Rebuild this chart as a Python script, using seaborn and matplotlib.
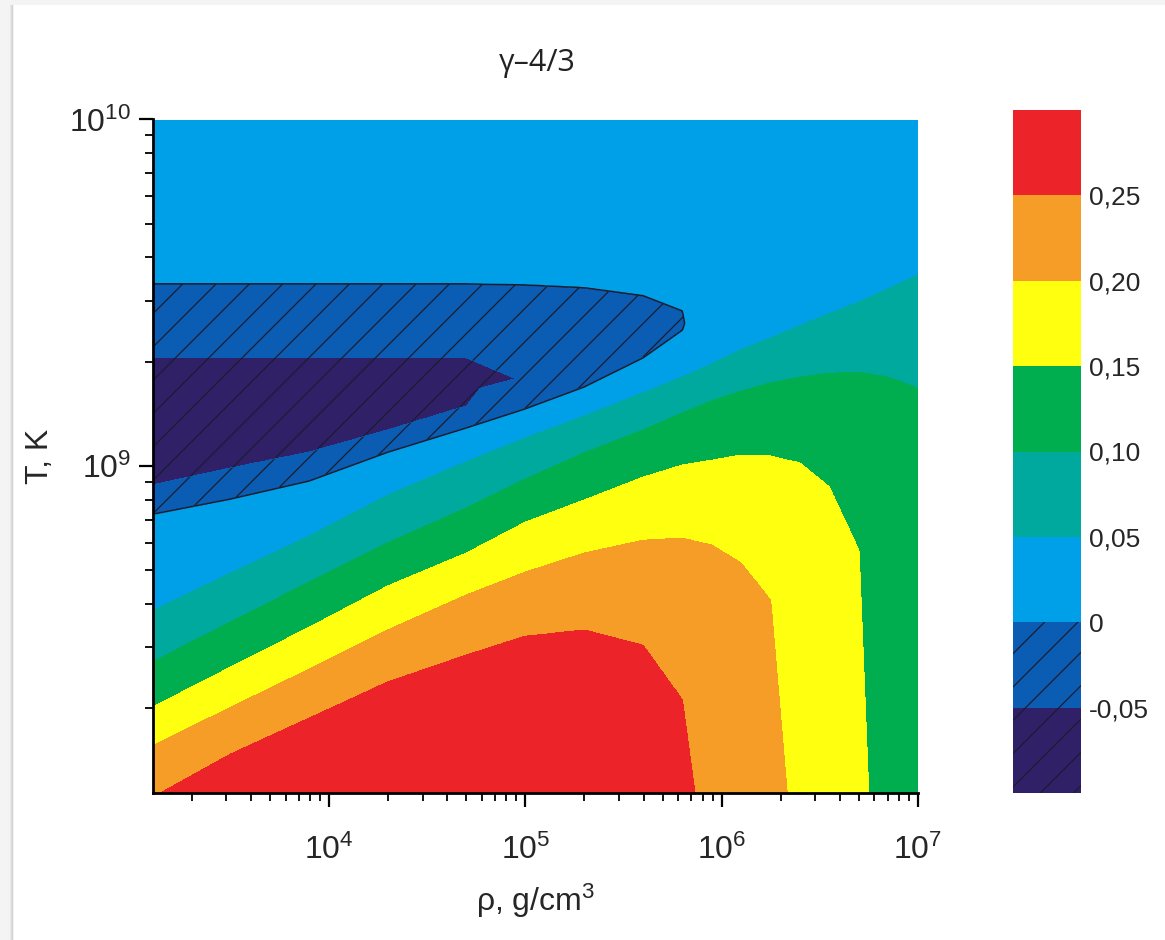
import numpy as np
import matplotlib
matplotlib.use("Agg")
import matplotlib.pyplot as plt
import matplotlib.tri as mtri
from matplotlib import font_manager as fm
from matplotlib.patches import Rectangle
from matplotlib.ticker import LogLocator, NullFormatter, LogFormatterMathtext
import seaborn as sns

nan = np.nan

# isochores (lg rho, g/cm^3) along which gamma - 4/3 is tabulated
log_rho_cols = [3.10, 3.50, 3.90, 4.30, 4.70, 5.00, 5.30, 5.60, 5.80, 5.95,
                6.10, 6.25, 6.40, 6.55, 6.70, 6.85, 7.00]

# gamma - 4/3 at the upper (T = 1e10 K) and lower (lg T = 8.05) ends of each isochore
gamma_top = [0.035, 0.035, 0.035, 0.035, 0.035, 0.035, 0.035, 0.035, 0.035,
             0.040, 0.040, 0.040, 0.040, 0.040, 0.040, 0.040, 0.045]
gamma_bottom = [0.248, 0.285, 0.292, 0.295, 0.296, 0.296, 0.292, 0.278, 0.257,
                0.241, 0.225, 0.213, 0.190, 0.173, 0.156, 0.138, 0.120]

# deepest point of the negative trough (pair-creation zone)
lgT_trough = [9.133, 9.153, 9.176, 9.208, 9.242, 9.254, 9.335, 9.401, 9.421,
              nan, nan, nan, nan, nan, nan, nan, nan]
gamma_trough = [-0.085, -0.083, -0.079, -0.073, -0.065, -0.047, -0.033, -0.017, -0.004,
                nan, nan, nan, nan, nan, nan, nan, nan]

# lg T at which each isochore crosses a contour level (nan: level not reached)
lgT_zero_upper = [9.525, 9.525, 9.525, 9.525, 9.525, 9.522, 9.514, 9.491, 9.447,
                  nan, nan, nan, nan, nan, nan, nan, nan]
lgT_m005_upper = [9.312, 9.312, 9.312, 9.312, 9.312, nan, nan, nan, nan,
                  nan, nan, nan, nan, nan, nan, nan, nan]
lgT_m005_lower = [8.945, 8.994, 9.040, 9.104, 9.173, nan, nan, nan, nan,
                  nan, nan, nan, nan, nan, nan, nan, nan]
lgT_zero_lower = [8.861, 8.905, 8.957, 9.040, 9.110, 9.165, 9.228, 9.312, 9.392,
                  nan, nan, nan, nan, nan, nan, nan, nan]
lgT_005 = [8.582, 8.691, 8.798, 8.916, 9.012, 9.081, 9.144, 9.211, 9.257,
           9.294, 9.335, 9.369, 9.404, 9.439, 9.473, 9.511, 9.551]
lgT_010 = [8.434, 8.550, 8.665, 8.778, 8.879, 8.962, 9.038, 9.104, 9.153,
           9.188, 9.216, 9.240, 9.257, 9.268, 9.271, 9.257, 9.225]
lgT_015 = [8.304, 8.420, 8.535, 8.654, 8.749, 8.838, 8.902, 8.968, 9.003,
           9.017, 9.032, 9.029, 9.009, 8.939, 8.758, nan, nan]
lgT_020 = [8.192, 8.304, 8.414, 8.527, 8.628, 8.694, 8.749, 8.786, 8.792,
           8.772, 8.720, 8.613, nan, nan, nan, nan, nan]
lgT_025 = [nan, 8.169, 8.273, 8.377, 8.455, 8.509, 8.527, 8.483, 8.325,
           nan, nan, nan, nan, nan, nan, nan, nan]

levels = [-0.10, -0.05, 0.0, 0.05, 0.10, 0.15, 0.20, 0.25, 0.30]
tick_levels = [-0.05, 0.0, 0.05, 0.10, 0.15, 0.20, 0.25]
tick_labels = ["-0,05", "0", "0,05", "0,10", "0,15", "0,20", "0,25"]
band_colors = ["#302068", "#0a5db3", "#00a0e9", "#00a99d",
               "#00ad4f", "#ffff10", "#f59d27", "#ec2329"]
band_hatches = ["/", "/", None, None, None, None, None, None]

LGT_MIN, LGT_MAX = 8.05, 10.0

# ---- knots of every isochore, ordered from the bottom of the column upwards ----
ranked_rows = [(lgT_025, None, 0.25), (lgT_020, None, 0.20), (lgT_015, None, 0.15),
               (lgT_010, None, 0.10), (lgT_005, None, 0.05),
               (lgT_zero_lower, None, 0.0), (lgT_m005_lower, None, -0.05),
               (lgT_trough, gamma_trough, None),
               (lgT_m005_upper, None, -0.05), (lgT_zero_upper, None, 0.0)]

pu, pv, pg = [], [], []
col_knots = []
for k, u in enumerate(log_rho_cols):
    knots = []

    def add(rank, v, g):
        knots.append((rank, len(pu)))
        pu.append(u)
        pv.append(v)
        pg.append(g)

    add(0, LGT_MIN, gamma_bottom[k])
    for r, (arr, vals, lev) in enumerate(ranked_rows, start=1):
        if not np.isnan(arr[k]):
            add(r, arr[k], vals[k] if vals is not None else lev)
    add(len(ranked_rows) + 1, LGT_MAX, gamma_top[k])
    col_knots.append(knots)

# ladder triangulation between neighbouring isochores: same-level knots are joined
triangles = []
for A, B in zip(col_knots[:-1], col_knots[1:]):
    i = j = 0
    while i < len(A) - 1 or j < len(B) - 1:
        ra = A[i + 1][0] if i < len(A) - 1 else 999
        rb = B[j + 1][0] if j < len(B) - 1 else 999
        if ra < rb:
            triangles.append((A[i][1], B[j][1], A[i + 1][1]))
            i += 1
        elif rb < ra:
            triangles.append((A[i][1], B[j][1], B[j + 1][1]))
            j += 1
        else:
            triangles.append((A[i][1], B[j][1], A[i + 1][1]))
            triangles.append((A[i + 1][1], B[j][1], B[j + 1][1]))
            i += 1
            j += 1

tri = mtri.Triangulation(np.array(pu), np.array(pv), triangles=np.array(triangles))
interp = mtri.LinearTriInterpolator(tri, np.array(pg))

lg_r = np.linspace(log_rho_cols[0] + 1e-4, log_rho_cols[-1] - 1e-4, 900)
lg_t = np.linspace(LGT_MIN + 1e-4, LGT_MAX - 1e-4, 800)
LR, LT = np.meshgrid(lg_r, lg_t)
field = interp(LR, LT)
RHO, TEMP = 10 ** LR, 10 ** LT


def font_available(name):
    try:
        fm.findfont(fm.FontProperties(family=name), fallback_to_default=False)
        return True
    except ValueError:
        return False


# condensed face for the axis texts, regular face elsewhere
if font_available("Liberation Sans Narrow"):
    axis_family, axis_size = ["Liberation Sans Narrow", "DejaVu Sans"], 26
else:
    axis_family, axis_size = ["Liberation Sans", "DejaVu Sans"], 23

# ---- figure ----
sns.set_theme(style="ticks")
plt.rcParams["font.family"] = ["Liberation Sans", "DejaVu Sans"]
plt.rcParams["hatch.color"] = "#1c1c30"
plt.rcParams["patch.edgecolor"] = "#1c1c30"
plt.rcParams["hatch.linewidth"] = 0.9
plt.rcParams["mathtext.default"] = "regular"

W, H = 1165, 940
fig = plt.figure(figsize=(W / 100, H / 100), dpi=100)
fig.patch.set_facecolor("#f4f4f4")
fig.patches.append(Rectangle((14 / W, 0), 1 - 14 / W, 1 - 5 / H, transform=fig.transFigure,
                             facecolor="white", edgecolor="none", zorder=-5))
for i, a in enumerate([0.10, 0.20, 0.32]):
    fig.patches.append(Rectangle(((10 + i) / W, 0), 1 / W, 1 - 5 / H, transform=fig.transFigure,
                                 facecolor="#888888", alpha=a, edgecolor="none", zorder=-4))

ax = fig.add_axes([153 / W, 1 - 793 / H, 765 / W, (793 - 119.5) / H])
cax = fig.add_axes([1013 / W, 1 - 793 / H, 68 / W, (793 - 110) / H])

cs = ax.contourf(RHO, TEMP, field, levels=levels, colors=band_colors, hatches=band_hatches)
ax.contour(RHO, TEMP, field, levels=[0.0], colors="#1c1c30", linewidths=1.1)

ax.set_xscale("log")
ax.set_yscale("log")
ax.set_xlim(10 ** 3.103, 1e7)
ax.set_ylim(10 ** 8.056, 1e10)

sns.despine(ax=ax, top=True, right=True)
for side in ("left", "bottom"):
    ax.spines[side].set_linewidth(2.0)
    ax.spines[side].set_color("black")

ax.xaxis.set_major_locator(LogLocator(base=10, numticks=10))
ax.xaxis.set_minor_locator(LogLocator(base=10, subs=np.arange(2, 10), numticks=20))
ax.yaxis.set_major_locator(LogLocator(base=10, numticks=10))
ax.yaxis.set_minor_locator(LogLocator(base=10, subs=np.arange(2, 10), numticks=20))
ax.xaxis.set_major_formatter(LogFormatterMathtext())
ax.yaxis.set_major_formatter(LogFormatterMathtext())
ax.xaxis.set_minor_formatter(NullFormatter())
ax.yaxis.set_minor_formatter(NullFormatter())
ax.tick_params(which="major", direction="out", length=10, width=1.6, color="black",
               labelsize=axis_size, labelfontfamily=axis_family, pad=6)
ax.tick_params(axis="x", which="major", pad=20)
ax.tick_params(which="minor", direction="out", length=6, width=1.3, color="black")

ax.set_xlabel(r"ρ, g/cm$^3$", fontsize=axis_size, family=axis_family)
ax.set_ylabel("T, K", fontsize=axis_size, family=axis_family)
ax.xaxis.set_label_coords(0.5, -(882 - 793) / 673.5)
ax.yaxis.set_label_coords(-(153 - 55) / 765, 0.5)
fig.text(537 / W, 1 - 63 / H, "γ–4/3", ha="center", va="center", fontsize=22,
         family=["Open Sans", "DejaVu Sans"], color="#222222")

cb = fig.colorbar(cs, cax=cax)
cb.set_ticks(tick_levels)
cb.set_ticklabels(tick_labels)
cb.outline.set_visible(False)
cb.ax.tick_params(length=0, labelsize=19, pad=6)

fig.savefig("out.png", dpi=100, facecolor=fig.get_facecolor())
